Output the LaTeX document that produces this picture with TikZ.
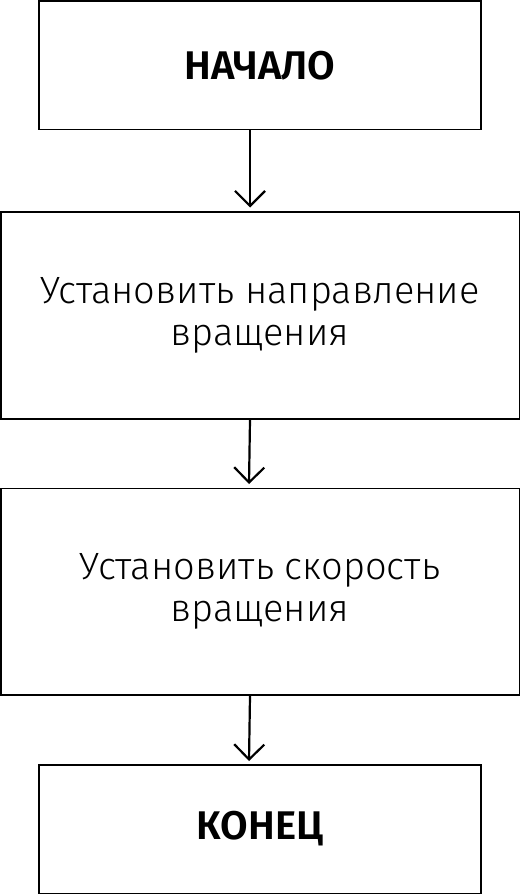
\documentclass[tikz,border=0pt]{standalone}
\usepackage{fontspec}
\setmainfont{Fira Sans Light}
\newfontfamily\boldf{Fira Sans SemiBold}
\usetikzlibrary{arrows.meta}
\tikzset{
  box/.style={draw, line width=1.5pt, inner sep=0pt, align=center},
  endbox/.style={box, minimum width=442pt, minimum height=128.5pt, font=\boldf\fontsize{40}{46}\selectfont},
  stepbox/.style={box, minimum width=518.5pt, minimum height=207pt, font=\fontsize{38}{42}\selectfont},
  arr/.style={line width=2.2pt, -{Straight Barb[length=15pt, width=30pt, line width=2.2pt]}}
}
\begin{document}
\begin{tikzpicture}[x=1pt,y=-1pt]
\useasboundingbox (0,0) rectangle (520,894);
\node[endbox] (b1) at (260,65.25) {НАЧАЛО};
\node[stepbox] (b2) at (260,315.5) {Установить направление\\вращения};
\node[stepbox, minimum height=206.5pt] (b3) at (260,591.75) {Установить скорость\\вращения};
\node[endbox] (b4) at (260,829) {КОНЕЦ};
\coordinate (t1) at (250,207.5);
\coordinate (t2) at (249,484);
\coordinate (t3) at (249,761);
\draw[arr] (b1.south -| t1) -- (t1);
\draw[arr] (b2.south -| t1) -- (t2);
\draw[arr] (b3.south -| t1) -- (t3);
\end{tikzpicture}
\end{document}
